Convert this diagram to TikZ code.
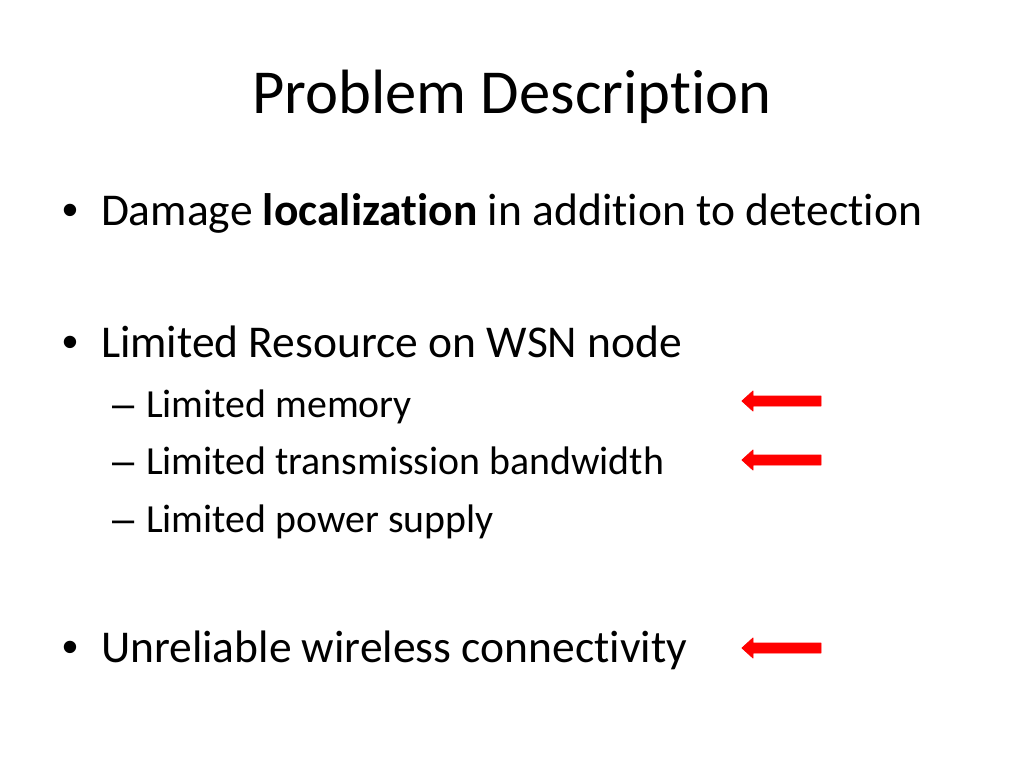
\documentclass[tikz,border=0pt]{standalone}
\usepackage{fontspec}
\setmainfont{Carlito}[RawFeature=-liga]
\newfontfamily\bulletfont{Liberation Sans}
\begin{document}
\begin{tikzpicture}[x=0.703125pt,y=-0.703125pt,
  every node/.style={inner sep=0pt,outer sep=0pt,text=black},
  titletext/.style={font=\fontsize{44}{52}\selectfont,anchor=base},
  bodytext/.style={font=\fontsize{32}{38}\selectfont,anchor=base west},
  subtext/.style={font=\fontsize{28}{34}\selectfont,anchor=base west},
  bulletmark/.style={font=\bulletfont\fontsize{32}{38}\selectfont,anchor=base west},
  dashmark/.style={font=\bulletfont\fontsize{28}{34}\selectfont,anchor=base west},
  redarrow/.style={fill=red,draw=red,line width=0.6pt,line join=round}]
\useasboundingbox (0,0) rectangle (1024,768);
\node[titletext] (title) at (512,114) {Problem Description};
\node[bulletmark] (b1) at (62,226) {•};
\node[bodytext] (t1) at (101,226) {Damage \textbf{localization} in addition to detection};
\node[bulletmark] (b2) at (62,357) {•};
\node[bodytext] (t2) at (101,357) {Limited Resource on WSN node};
\node[dashmark] (d1) at (112,417) {–};
\node[subtext] (s1) at (146,417) {Limited memory};
\node[dashmark] (d2) at (112,474) {–};
\node[subtext] (s2) at (146,474) {Limited transmission bandwidth};
\node[dashmark] (d3) at (112,532) {–};
\node[subtext] (s3) at (146,532) {Limited power supply};
\node[bulletmark] (b3) at (62,662) {•};
\node[bodytext] (t3) at (101,662) {Unreliable wireless connectivity};
\foreach \yy/\nm in {401/a1,460/a2,648/a3}{
  \coordinate (\nm) at (742,\yy);
  \fill[redarrow] (\nm) -- ++(11,-10) -- ++(0,5) -- ++(68,0) -- ++(0,10) -- ++(-68,0) -- ++(0,5) -- cycle;
}
\end{tikzpicture}
\end{document}
